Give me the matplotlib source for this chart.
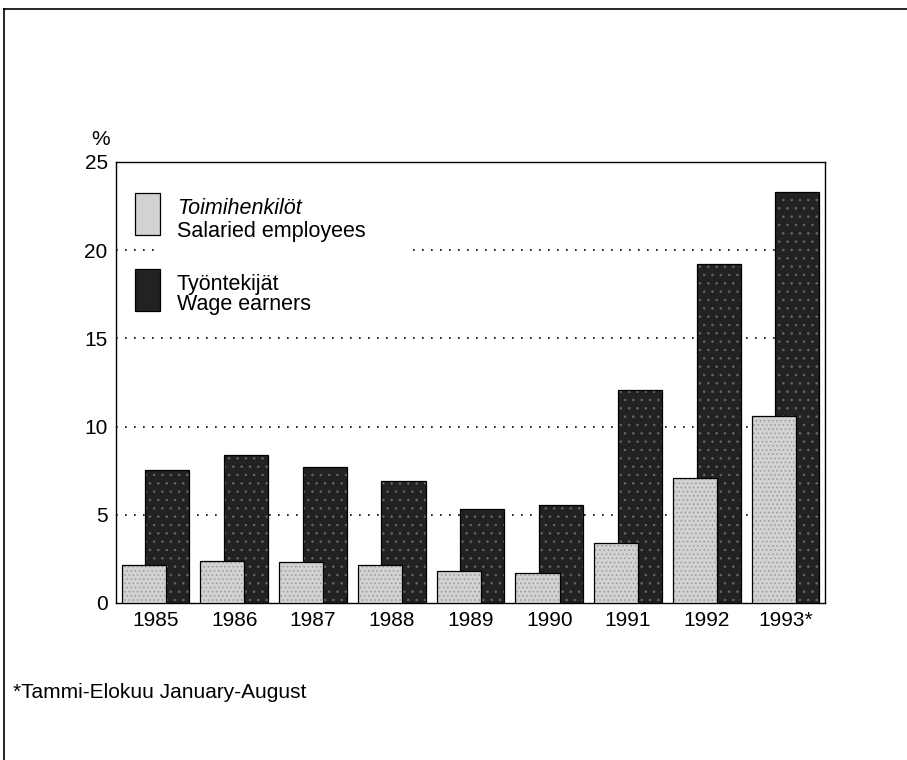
import numpy as np
import matplotlib.pyplot as plt
from matplotlib.patches import Rectangle
from matplotlib.lines import Line2D

years = ['1985', '1986', '1987', '1988', '1989', '1990', '1991', '1992', '1993*']
salaried = [2.15, 2.4, 2.3, 2.15, 1.8, 1.7, 3.4, 7.1, 10.6]   # Toimihenkilöt
wage = [7.55, 8.4, 7.7, 6.9, 5.3, 5.55, 12.1, 19.2, 23.3]     # Työntekijät
yticks = [0, 5, 10, 15, 20, 25]

plt.rcParams['font.family'] = ['Liberation Sans', 'DejaVu Sans']
plt.rcParams['hatch.linewidth'] = 0.6

fig = plt.figure(figsize=(9.07, 7.6), dpi=100)
ax = fig.add_axes([0.1279, 0.2066, 0.7817, 0.5803])

x = np.arange(len(years))
w = 0.56
light = '#d2d2d2'
dark = '#222222'
# fill + stipple texture, then outline
ax.bar(x + 0.15, wage, w, color=dark, edgecolor='#666666', hatch='..', lw=0, zorder=2)
ax.bar(x + 0.15, wage, w, fill=False, edgecolor='black', lw=0.9, zorder=2)
ax.bar(x - 0.15, salaried, w, color=light, edgecolor='#999999', hatch='....', lw=0, zorder=3)
ax.bar(x - 0.15, salaried, w, fill=False, edgecolor='black', lw=0.9, zorder=3)

ax.set_xlim(-0.5, len(years) - 0.5)
ax.set_ylim(0, 25)
ax.set_yticks(yticks)
ax.set_xticks(x)
ax.set_xticklabels(years)
ax.tick_params(length=0, labelsize=15, pad=6)
for g in yticks[1:-1]:
    ax.axhline(g, color='black', ls=(0, (1, 4.4)), lw=1.2, zorder=1)
for s in ax.spines.values():
    s.set_linewidth(1.0)

ax.text(-0.035, 1.03, '%', transform=ax.transAxes, fontsize=15, ha='left', va='bottom')

# legend drawn by hand (two-line labels, first line italic)
ax.add_patch(Rectangle((0.063, 0.64), 0.347, 0.30, transform=ax.transAxes,
                       facecolor='white', edgecolor='none', zorder=4))
ax.add_patch(Rectangle((0.027, 0.834), 0.035, 0.096, transform=ax.transAxes,
                       facecolor=light, edgecolor='black', lw=0.9, zorder=5))
ax.add_patch(Rectangle((0.027, 0.662), 0.035, 0.095, transform=ax.transAxes,
                       facecolor=dark, edgecolor='black', lw=0.9, zorder=5))
fs = 15.5
ax.text(0.086, 0.883, 'Toimihenkilöt', style='italic', transform=ax.transAxes,
        fontsize=fs, va='baseline', zorder=5)
ax.text(0.086, 0.829, 'Salaried employees', transform=ax.transAxes,
        fontsize=fs, va='baseline', zorder=5)
ax.text(0.086, 0.710, 'Työntekijät', transform=ax.transAxes,
        fontsize=fs, va='baseline', zorder=5)
ax.text(0.086, 0.664, 'Wage earners', transform=ax.transAxes,
        fontsize=fs, va='baseline', zorder=5)

fig.text(13 / 907, 1 - 692 / 760, '*Tammi-Elokuu January-August', fontsize=15, va='center')

# page frame (top and left edges)
fig.add_artist(Line2D([0.004, 1.0], [0.988, 0.988], color='black', lw=1.2))
fig.add_artist(Line2D([0.004, 0.004], [0.0, 0.988], color='black', lw=1.2))

fig.savefig('out.png', dpi=100)
